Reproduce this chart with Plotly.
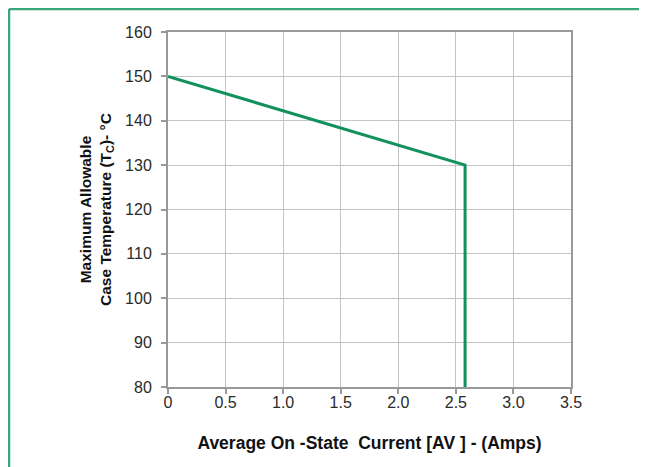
import plotly.graph_objects as go

# Data
current_amps = [0, 2.58, 2.58]
case_temp_c = [150, 130, 80]

x_tick_vals = [0, 0.5, 1.0, 1.5, 2.0, 2.5, 3.0, 3.5]
x_tick_text = ["0", "0.5", "1.0", "1.5", "2.0", "2.5", "3.0", "3.5"]
y_tick_vals = [80, 90, 100, 110, 120, 130, 140, 150, 160]

x_title = "Average On -State  Current [AV ] - (Amps)"
y_title = "Maximum Allowable<br>Case Temperature (T<sub>C</sub>)- °C"

# page has an 8px body margin; figure coordinates = page - 8
OFF = 8
W, H = 647 - OFF, 467 - OFF
L, T = 168 - OFF, 32 - OFF
R = W - (571 - OFF)
B = H - (387 - OFF)
pw, ph = W - L - R, H - T - B

fig = go.Figure()
fig.add_trace(go.Scatter(
    x=current_amps, y=case_temp_c, mode="lines",
    line=dict(color="#12915c", width=3), showlegend=False, hoverinfo="skip",
))

font_family = "Liberation Sans, Arial, sans-serif"
fig.update_layout(
    width=W, height=H,
    margin=dict(l=L, r=R, t=T, b=B, pad=0),
    paper_bgcolor="white", plot_bgcolor="white",
    font=dict(family=font_family, color="#222222", size=16),
    xaxis=dict(
        range=[0, 3.5], tickvals=x_tick_vals, ticktext=x_tick_text,
        showgrid=True, gridcolor="#c4c4c4", gridwidth=1,
        showline=True, linecolor="#999999", linewidth=2, mirror=True,
        ticks="outside", ticklen=5, tickcolor="#999999", tickwidth=1.5,
        tickfont=dict(size=16, color="#2a2a2a"), zeroline=False,
        ticklabelstandoff=-5,
        title=dict(text="<b>" + x_title + "</b>", font=dict(size=17.5, color="#111111"), standoff=27),
    ),
    yaxis=dict(
        range=[80, 160], tickvals=y_tick_vals,
        showgrid=True, gridcolor="#c4c4c4", gridwidth=1,
        showline=True, linecolor="#999999", linewidth=2, mirror=True,
        ticks="outside", ticklen=5, tickcolor="#999999", tickwidth=1.5,
        tickfont=dict(size=16, color="#2a2a2a"), zeroline=False,
        ticklabelstandoff=6,
        title=dict(text="<b>" + y_title + "</b>", font=dict(size=15.5, color="#111111"), standoff=10),
    ),
)

# outer green frame (top and left edges of the figure box)
bx = (1 - L) / pw
by = 1 + (T - 1) / ph
fig.add_shape(type="line", xref="paper", yref="paper", x0=bx, y0=by, x1=(W + 5 - L) / pw, y1=by,
              line=dict(color="#3aa57a", width=2.5))
fig.add_shape(type="line", xref="paper", yref="paper", x0=bx, y0=by, x1=bx, y1=-(B + 5) / ph,
              line=dict(color="#3aa57a", width=2.5))

fig.write_html("out.html")
